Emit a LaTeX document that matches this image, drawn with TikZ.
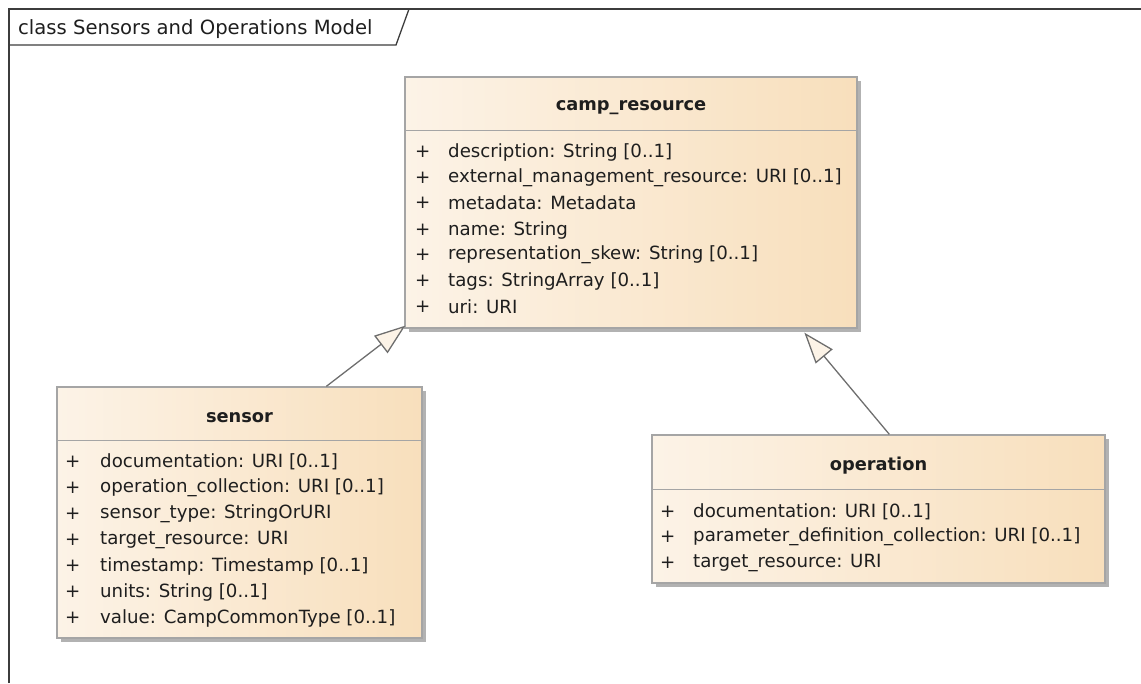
\documentclass[tikz,border=0pt]{standalone}
\usepackage{fontspec}
\setmainfont{DejaVu Sans}
\usetikzlibrary{arrows.meta,calc,shadows}
\definecolor{boxL}{RGB}{252,243,231}
\definecolor{boxR}{RGB}{248,223,188}
\definecolor{bord}{RGB}{165,165,165}
\definecolor{shad}{RGB}{178,178,178}
\definecolor{conn}{RGB}{110,110,110}
\definecolor{frame}{RGB}{60,60,60}
\definecolor{txt}{RGB}{30,30,30}
\begin{document}
\begin{tikzpicture}[x=1pt,y=-1pt,
  classbox/.style={draw=bord, line width=1.3pt, left color=boxL, right color=boxR,
    drop shadow={shadow xshift=4pt, shadow yshift=-4pt, fill=shad, opacity=1}},
  sepline/.style={draw=bord, line width=1.3pt},
  ctitle/.style={font=\fontsize{17.8}{20}\selectfont\bfseries, text=txt, inner sep=0pt},
  attr/.style={font=\fontsize{18.2}{20}\selectfont, text=txt, anchor=west, inner sep=0pt},
  gen/.style={draw=conn, line width=1.3pt, -{Triangle[open, fill=boxL, length=31pt, width=22pt, line width=1.3pt]}},
  framestyle/.style={draw=frame, line width=1.3pt}]
\useasboundingbox (0,0) rectangle (1141,683);
% frame
\draw[framestyle] (9,683) -- (9,9) -- (1141,9);
\draw[framestyle] (9,45) -- (396,45) -- (409,9);
\node[attr, font=\fontsize{19.6}{22}\selectfont] (frametitle) at (18,29) {class Sensors and Operations Model};
% camp_resource
\node[classbox, minimum width=452pt, minimum height=251pt, inner sep=0pt] (camp) at (631,202.5) {};
\draw[sepline] ($(camp.north west)+(0,54)$) -- ($(camp.north east)+(0,54)$);
\node[ctitle] (campt) at (631,108) {camp\_resource};
\foreach \y/\t [count=\i] in {152/{description: String [0..1]},
  178/{external\_management\_resource: URI [0..1]},
  203/{metadata: Metadata},
  230/{name: String},
  255/{representation\_skew: String [0..1]},
  281/{tags: StringArray [0..1]},
  307/{uri: URI}} {
  \node[attr] (campp\i) at (415,\y) {+};
  \node[attr] (campa\i) at (448,\y) {\t};
}
% sensor
\node[classbox, minimum width=365pt, minimum height=251pt, inner sep=0pt] (sensor) at (239.5,512.5) {};
\draw[sepline] ($(sensor.north west)+(0,54)$) -- ($(sensor.north east)+(0,54)$);
\node[ctitle] (sensort) at (239.5,418) {sensor};
\foreach \y/\t [count=\i] in {462/{documentation: URI [0..1]},
  488/{operation\_collection: URI [0..1]},
  514/{sensor\_type: StringOrURI},
  540/{target\_resource: URI},
  566/{timestamp: Timestamp [0..1]},
  592/{units: String [0..1]},
  618/{value: CampCommonType [0..1]}} {
  \node[attr] (sensorp\i) at (65,\y) {+};
  \node[attr] (sensora\i) at (100,\y) {\t};
}
% operation
\node[classbox, minimum width=453pt, minimum height=148pt, inner sep=0pt] (operation) at (878.5,509) {};
\draw[sepline] ($(operation.north west)+(0,55)$) -- ($(operation.north east)+(0,55)$);
\node[ctitle] (operationt) at (878.5,466) {operation};
\foreach \y/\t [count=\i] in {512/{documentation: URI [0..1]},
  537/{parameter\_definition\_collection: URI [0..1]},
  563/{target\_resource: URI}} {
  \node[attr] (operationp\i) at (660,\y) {+};
  \node[attr] (operationa\i) at (693,\y) {\t};
}
% generalizations
\coordinate (s1) at ($(sensor.north west)+(270,0)$);
\coordinate (c1) at ($(camp.south west)+(1,-3)$);
\coordinate (o1) at ($(operation.north west)+(238,0)$);
\coordinate (c2) at ($(camp.south west)+(400,4)$);
\draw[gen] (s1) -- (c1);
\draw[gen] (o1) -- (c2);
\end{tikzpicture}
\end{document}
